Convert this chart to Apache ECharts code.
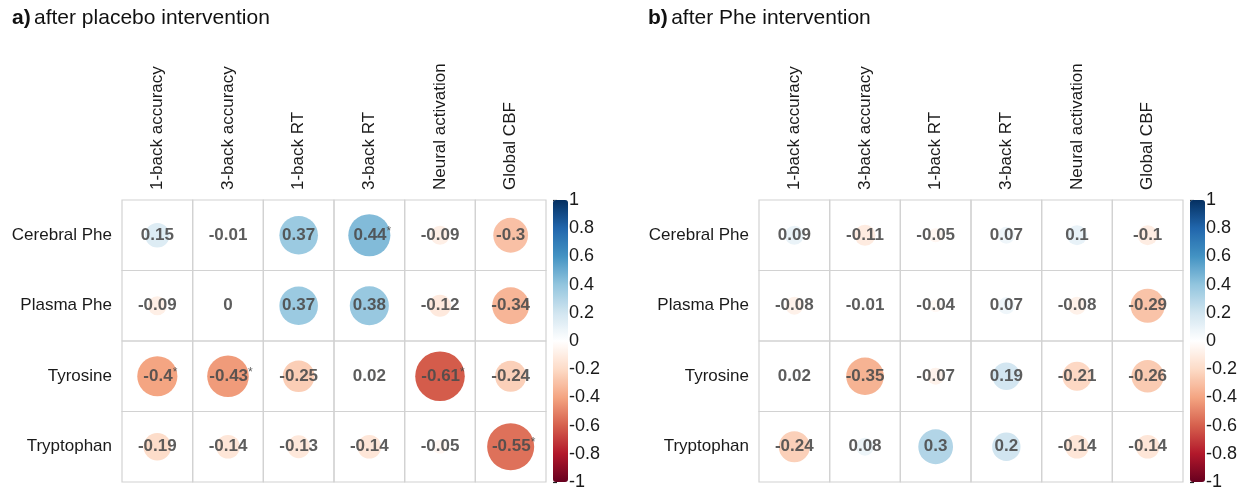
<!DOCTYPE html>
<html>
<head>
<meta charset="utf-8">
<script src="https://cdn.jsdelivr.net/npm/echarts@6/dist/echarts.min.js"></script>
<style>html,body{margin:0;padding:0;background:#fff;}#c{width:1240px;height:491px;}</style>
</head>
<body>
<div id="c"></div>
<script>
const rows = ['Cerebral Phe', 'Plasma Phe', 'Tyrosine', 'Tryptophan'];
const cols = ['1-back accuracy', '3-back accuracy', '1-back RT', '3-back RT', 'Neural activation', 'Global CBF'];
const placeboCerebralPhe = [0.15, -0.01, 0.37, 0.44, -0.09, -0.3];
const placeboPlasmaPhe   = [-0.09, 0, 0.37, 0.38, -0.12, -0.34];
const placeboTyrosine    = [-0.4, -0.43, -0.25, 0.02, -0.61, -0.24];
const placeboTryptophan  = [-0.19, -0.14, -0.13, -0.14, -0.05, -0.55];
const placeboSig = [[0,0,0,1,0,0],[0,0,0,0,0,0],[1,1,0,0,1,0],[0,0,0,0,0,1]];
const pheCerebralPhe = [0.09, -0.11, -0.05, 0.07, 0.1, -0.1];
const phePlasmaPhe   = [-0.08, -0.01, -0.04, 0.07, -0.08, -0.29];
const pheTyrosine    = [0.02, -0.35, -0.07, 0.19, -0.21, -0.26];
const pheTryptophan  = [-0.24, 0.08, 0.3, 0.2, -0.14, -0.14];
const pheSig = [[0,0,0,0,0,0],[0,0,0,0,0,0],[0,0,0,0,0,0],[0,0,0,0,0,0]];
const colorbarTicks = [-1, -0.8, -0.6, -0.4, -0.2, 0, 0.2, 0.4, 0.6, 0.8, 1];
const rdbu = ['#67001F','#B2182B','#D6604D','#F4A582','#FDDBC7','#FFFFFF','#D1E5F0','#92C5DE','#4393C3','#2166AC','#053061'];

function build(matrix, sig) {
  const out = [];
  matrix.forEach((row, ri) => row.forEach((v, ci) => out.push([ci, ri, v, sig[ri][ci]])));
  return out;
}
const dataA = build([placeboCerebralPhe, placeboPlasmaPhe, placeboTyrosine, placeboTryptophan], placeboSig);
const dataB = build([pheCerebralPhe, phePlasmaPhe, pheTyrosine, pheTryptophan], pheSig);

const FONT = "'Liberation Sans', Arial, sans-serif";
const GRID_TOP = 200, GRID_H = 282, GRID_W = 424;
const panels = [{left: 122, data: dataA}, {left: 759, data: dataB}];

function renderItem(params, api) {
  const v = api.value(2), s = api.value(3);
  const c = api.coord([api.value(0), api.value(1)]);
  const sz = api.size([1, 1]);
  const r = Math.sqrt(Math.abs(v)) * 0.45 * Math.min(sz[0], sz[1]);
  const txt = '{v|' + String(v) + '}' + (s ? '{s|*}' : '');
  return {
    type: 'group',
    children: [
      {type: 'rect', shape: {x: c[0] - sz[0] / 2, y: c[1] - sz[1] / 2, width: sz[0], height: sz[1]},
       style: {fill: 'none', stroke: '#d2d2d2', lineWidth: 1.2}},
      {type: 'circle', shape: {cx: c[0], cy: c[1], r: r}, style: {fill: api.visual('color')}},
      {type: 'text', x: c[0] + (s ? 3 : 0), y: c[1],
       style: {text: txt, align: 'center', verticalAlign: 'middle',
         rich: {
           v: {fontFamily: FONT, fontSize: 17, fontWeight: 'bold', fill: 'rgba(75,75,75,0.9)'},
           s: {fontFamily: FONT, fontSize: 12, fill: 'rgba(75,75,75,0.9)', padding: [0, 0, 8, 0]}
         }}}
    ]
  };
}

const grid = [], xAxis = [], yAxis = [], series = [], visualMap = [];
panels.forEach((p, i) => {
  grid.push({left: p.left, top: GRID_TOP, width: GRID_W, height: GRID_H});
  xAxis.push({type: 'category', gridIndex: 2 * i, data: cols, position: 'top',
    axisLine: {show: false}, axisTick: {show: false},
    axisLabel: {rotate: -90, margin: 10, fontFamily: FONT, fontSize: 17, color: '#1a1a1a', interval: 0}});
  yAxis.push({type: 'category', gridIndex: 2 * i, data: rows, inverse: true,
    axisLine: {show: false}, axisTick: {show: false},
    axisLabel: {margin: 10, fontFamily: FONT, fontSize: 17, color: '#1a1a1a'}});
  series.push({type: 'custom', xAxisIndex: 2 * i, yAxisIndex: 2 * i, data: p.data,
    renderItem: renderItem, encode: {x: 0, y: 1}, silent: true});
  const cbLeft = p.left + GRID_W + 7;
  grid.push({left: cbLeft, top: GRID_TOP, width: 15, height: GRID_H});
  xAxis.push({type: 'value', gridIndex: 2 * i + 1, show: false});
  yAxis.push({type: 'value', gridIndex: 2 * i + 1, min: -1, max: 1, interval: 0.2, position: 'right',
    axisLine: {show: false}, splitLine: {show: false},
    axisTick: {show: true, length: 4, lineStyle: {color: '#222', width: 1.2}},
    axisLabel: {margin: 1, fontFamily: FONT, fontSize: 18, color: '#1a1a1a',
      formatter: v => String(colorbarTicks.reduce((a, b) => Math.abs(b - v) < Math.abs(a - v) ? b : a))}});
  visualMap.push({type: 'continuous', min: -1, max: 1, seriesIndex: i, dimension: 2,
    inRange: {color: rdbu}, left: cbLeft, top: GRID_TOP, itemWidth: 15, itemHeight: GRID_H,
    padding: 0, calculable: false, showLabel: false, text: null, hoverLink: false});
});

const chart = echarts.init(document.getElementById('c'), null, {renderer: 'canvas'});
chart.setOption({
  animation: false,
  backgroundColor: '#fff',
  grid, xAxis, yAxis, series, visualMap,
  graphic: [
    {type: 'text', left: 12, top: 8, style: {text: '{b|a)} {n|after placebo intervention}',
      rich: {b: {fontFamily: FONT, fontSize: 21, fontWeight: 'bold', fill: '#111'},
             n: {fontFamily: FONT, fontSize: 21, fill: '#111'}}}},
    {type: 'text', left: 648, top: 8, style: {text: '{b|b)} {n|after Phe intervention}',
      rich: {b: {fontFamily: FONT, fontSize: 21, fontWeight: 'bold', fill: '#111'},
             n: {fontFamily: FONT, fontSize: 21, fill: '#111'}}}}
  ]
});
</script>
</body>
</html>
